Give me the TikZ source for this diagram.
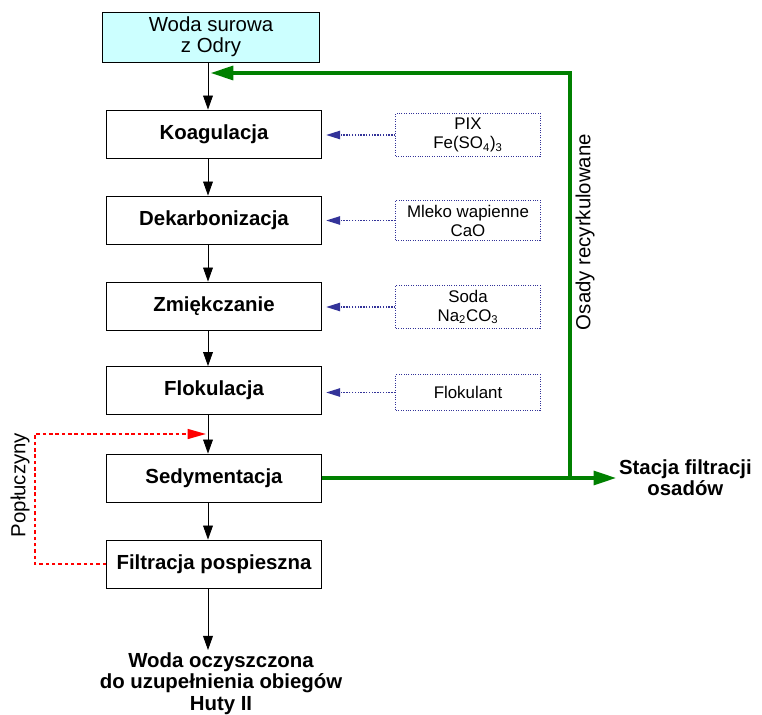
\documentclass[tikz,border=0pt]{standalone}
\usepackage{fontspec}
\setmainfont{Liberation Sans}
\usepackage{xcolor}
\definecolor{rawwater}{RGB}{204, 255, 255}
\definecolor{recycle}{RGB}{0, 128, 0}
\definecolor{dosing}{RGB}{51, 51, 153}
\definecolor{rinsing}{RGB}{255, 0, 0}
\usetikzlibrary{arrows.meta, positioning, calc}
\tikzset{
    process/.style={rectangle, draw=black, line width=0.6pt, minimum width=5.375cm, minimum height=1.2cm, align=center, font=\fontsize{14.5}{17}\selectfont\bfseries},
    source/.style={rectangle, draw=black, line width=0.6pt, fill=rawwater, minimum width=5.425cm, minimum height=1.25cm, align=center, font=\fontsize{14.5}{15}\selectfont},
    reagent/.style={rectangle, draw=dosing, densely dotted, line width=0.7pt, minimum width=3.6cm, minimum height=0.9cm, align=center, font=\fontsize{12}{13.5}\selectfont},
    outlet/.style={align=center, inner sep=2pt, font=\fontsize{14.5}{15}\selectfont\bfseries},
    sidelabel/.style={rotate=90, font=\fontsize{14.5}{17}\selectfont},
    flowarrow/.style={line width=0.6pt, -{Triangle[length=10pt, width=7pt]}},
    dosearrow/.style={dosing, densely dotted, line width=1pt, -{Triangle[length=10pt, width=6pt]}},
    sludge/.style={recycle, line width=2.2pt, -{Triangle[length=16pt, width=10pt]}},
    rinse/.style={rinsing, dash pattern=on 2.5pt off 2pt, line width=1.3pt, -{Triangle[length=13pt, width=7pt]}}
}

\begin{document}
\begin{tikzpicture}[x=0.025cm, y=-0.025cm]
        \useasboundingbox (0, 0) rectangle (762, 715);

        % Main treatment line
        \node[source] (raw) at (211, 37) {Woda surowa\\z Odry};
        \node[process] (koag) at (214, 134) {Koagulacja};
        \node[process] (dekarb) at (214, 220) {Dekarbonizacja};
        \node[process] (zmiek) at (214, 306) {Zmiękczanie};
        \node[process] (flok) at (214, 390.5) {Flokulacja};
        \node[process] (sedym) at (214, 478) {Sedymentacja};
        \node[process] (filtr) at (214, 564) {Filtracja pospieszna};
        \node[outlet, anchor=north] (clean) at (221, 650) {Woda oczyszczona\\do uzupełnienia obiegów\\Huty II};
        \coordinate (spine) at (208, 0);

        % Chemical dosing
        \node[reagent] (pix) at (468, 135) {PIX\\Fe(SO\textsubscript{4})\textsubscript{3}};
        \node[reagent] (mleko) at (468, 220.5) {Mleko wapienne\\CaO};
        \node[reagent] (soda) at (468, 307) {Soda\\Na\textsubscript{2}CO\textsubscript{3}};
        \node[reagent] (flokulant) at (468, 392.5) {Flokulant};

        % Sludge outlet and recycling
        \node[outlet, anchor=west] (stacja) at (616, 478) {Stacja filtracji\\osadów};
        \coordinate (branch) at (570, 478);
        \coordinate (turn) at (570, 73);
        \node[sidelabel] (osady) at (585, 232) {Osady recyrkulowane};

        % Backwash return
        \coordinate (rinsebend) at (35, 434);
        \coordinate (rinseend) at (206, 434);
        \node[sidelabel] (popl) at (20, 485) {Popłuczyny};

        % Arrows along the main line
        \draw[flowarrow] (raw.south -| spine) -- (koag.north -| spine);
        \draw[flowarrow] (koag.south -| spine) -- (dekarb.north -| spine);
        \draw[flowarrow] (dekarb.south -| spine) -- (zmiek.north -| spine);
        \draw[flowarrow] (zmiek.south -| spine) -- (flok.north -| spine);
        \draw[flowarrow] (flok.south -| spine) -- (sedym.north -| spine);
        \draw[flowarrow] (sedym.south -| spine) -- (filtr.north -| spine);
        \draw[flowarrow] (filtr.south -| spine) -- (clean.north -| spine);

        % Dosing arrows
        \draw[dosearrow] (pix.west) -- ([xshift=3pt]pix.west -| koag.east);
        \draw[dosearrow] (mleko.west) -- ([xshift=3pt]mleko.west -| dekarb.east);
        \draw[dosearrow] (soda.west) -- ([xshift=3pt]soda.west -| zmiek.east);
        \draw[dosearrow] (flokulant.west) -- ([xshift=3pt]flokulant.west -| flok.east);

        % Green sludge lines
        \draw[sludge] (sedym.east) -- (stacja.west);
        \draw[sludge] (branch) -- (turn) -- ([xshift=2pt]spine |- turn);

        % Red backwash line
        \draw[rinse] (filtr.west) -| (rinsebend) -- (rinseend);
    \end{tikzpicture}
\end{document}
